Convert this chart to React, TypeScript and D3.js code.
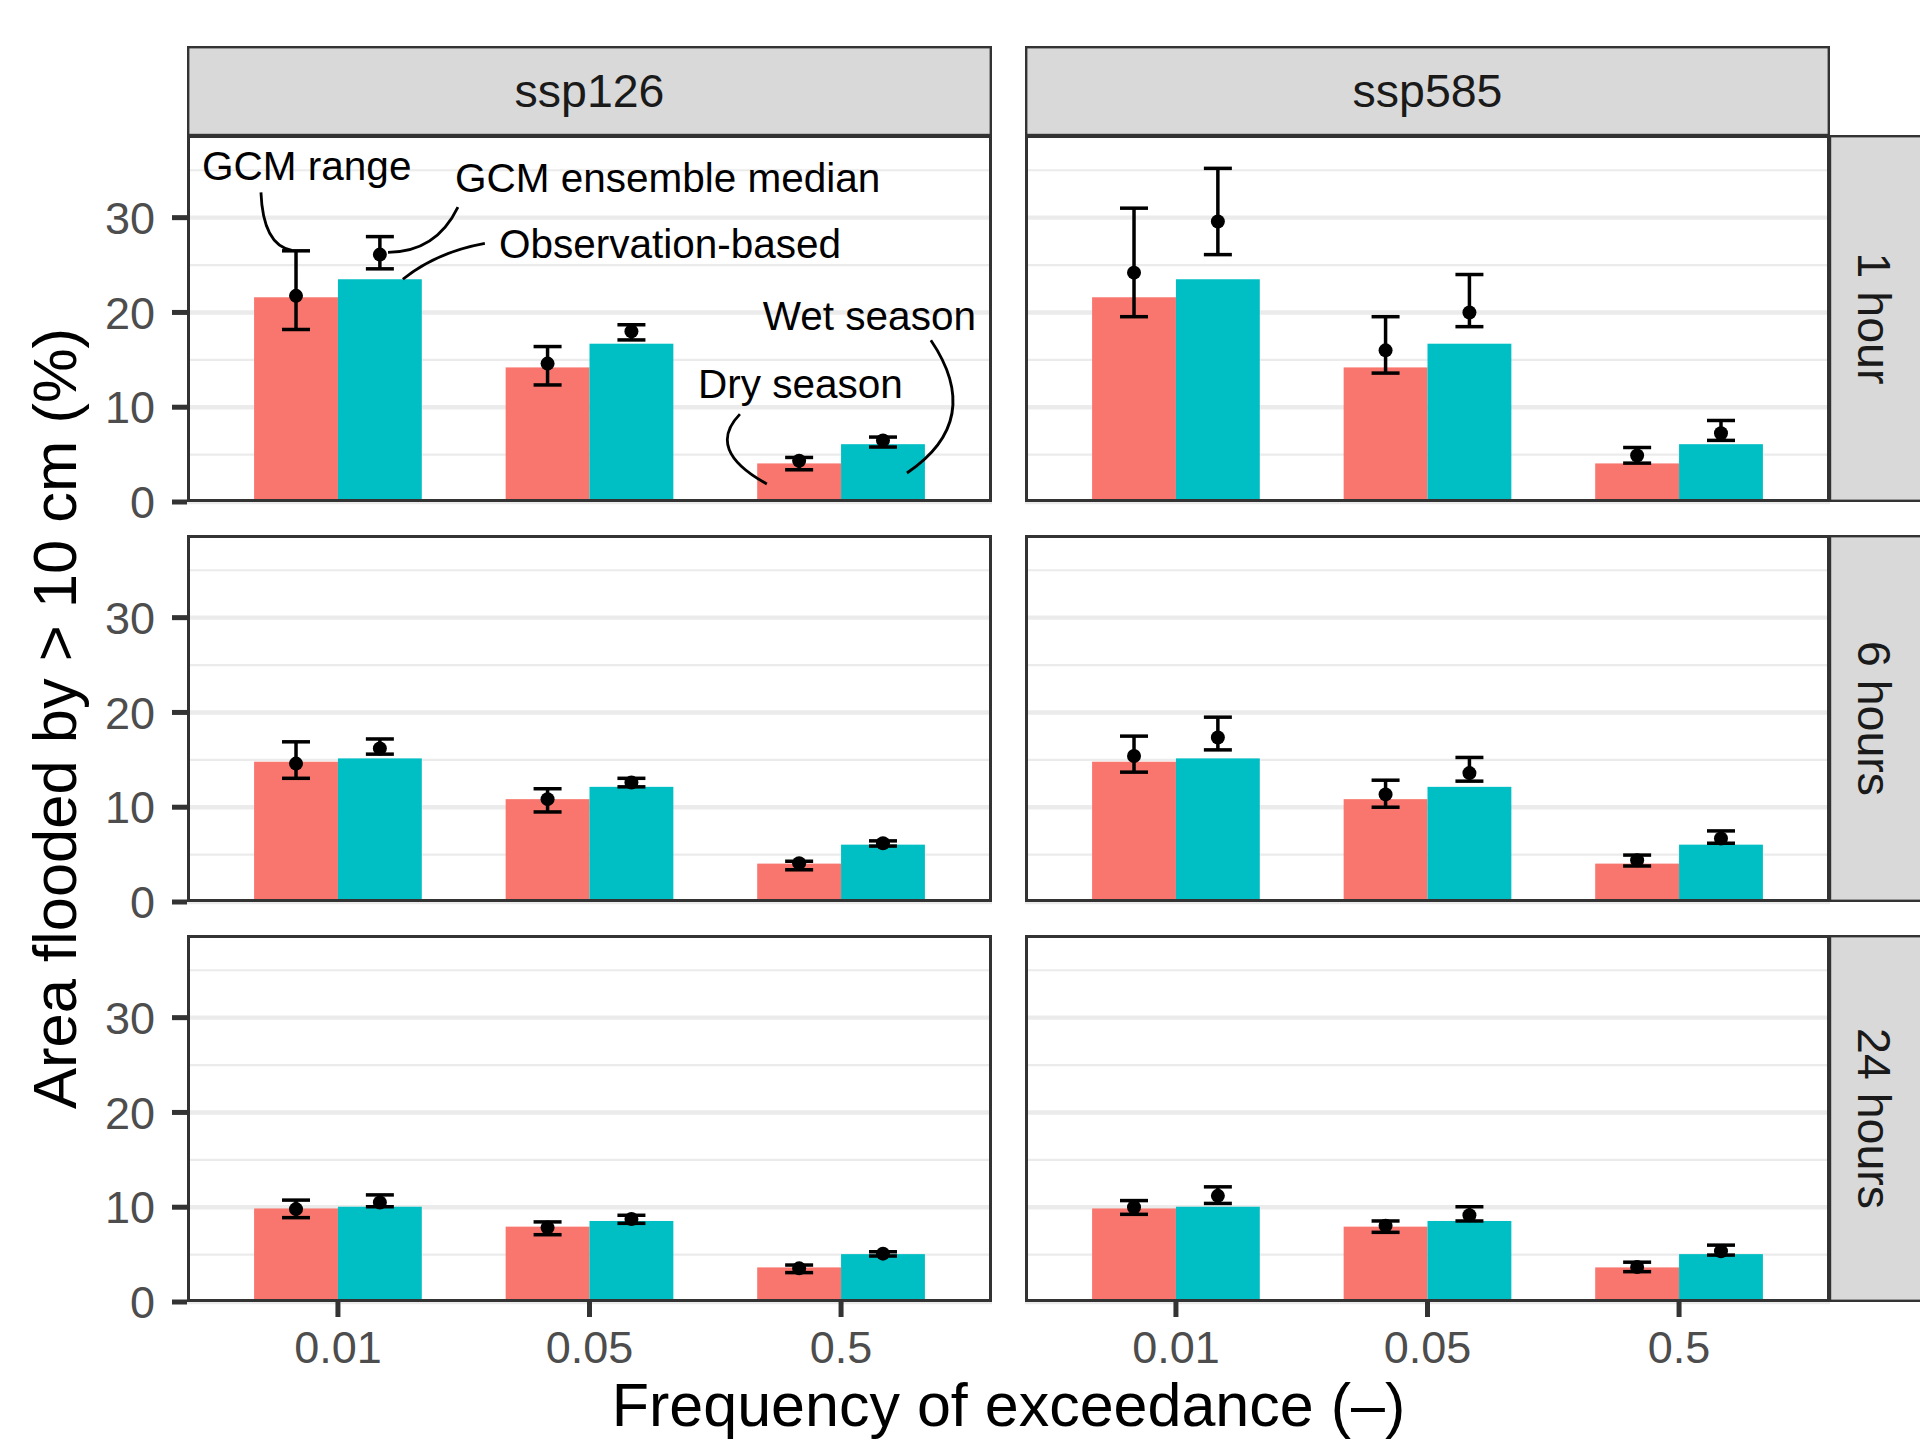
import React from 'react';
import * as d3 from 'd3';

const durations = ['1 hour', '6 hours', '24 hours'];
const scenarios = ['ssp126', 'ssp585'];
const frequencies = ['0.01', '0.05', '0.5'];
const seasons = ['Dry season', 'Wet season'];
const seasonColors = ['#F8766D', '#00BFC4'];
const yTicks = [0, 10, 20, 30];
const yMinor = [5, 15, 25, 35];

// observation-based bars, [duration][frequency]
const obsDry = [[21.6, 14.2, 4.07], [14.8, 10.85, 4.05], [9.87, 7.95, 3.65]];
const obsWet = [[23.5, 16.7, 6.1], [15.15, 12.15, 6.05], [10.05, 8.55, 5.05]];

// GCM ensemble, [duration][season][frequency]
const ssp126Median = [
  [[21.75, 14.6, 4.35], [26.1, 18.0, 6.5]],
  [[14.6, 10.85, 4.1], [16.2, 12.6, 6.2]],
  [[9.8, 7.85, 3.55], [10.5, 8.75, 5.1]],
];
const ssp126Low = [
  [[18.2, 12.35, 3.4], [24.6, 17.1, 5.8]],
  [[13.05, 9.5, 3.4], [15.6, 12.15, 5.9]],
  [[8.9, 7.1, 3.1], [10.05, 8.3, 4.85]],
];
const ssp126High = [
  [[26.5, 16.4, 4.7], [28.0, 18.7, 6.85]],
  [[16.9, 11.95, 4.3], [17.2, 13.05, 6.45]],
  [[10.75, 8.45, 3.9], [11.3, 9.15, 5.3]],
];
const ssp585Median = [
  [[24.2, 16.0, 4.9], [29.6, 20.0, 7.26]],
  [[15.4, 11.35, 4.4], [17.35, 13.6, 6.7]],
  [[10.0, 8.05, 3.7], [11.2, 9.15, 5.35]],
];
const ssp585Low = [
  [[19.55, 13.6, 4.1], [26.1, 18.5, 6.5]],
  [[13.7, 10.0, 3.8], [16.05, 12.75, 6.2]],
  [[9.25, 7.35, 3.2], [10.4, 8.55, 4.95]],
];
const ssp585High = [
  [[31.0, 19.55, 5.75], [35.2, 24.0, 8.6]],
  [[17.5, 12.85, 4.95], [19.5, 15.25, 7.5]],
  [[10.7, 8.55, 4.2], [12.15, 10.05, 6.0]],
];

// labels in the first panel: text position and curve (start, control, end) in data units
const annotations = [
  { label: 'GCM range', at: [0.46, 34.0], curve: [[0.694, 32.67], [0.702, 27.1], [0.817, 26.55]] },
  { label: 'GCM ensemble median', at: [1.465, 32.67], curve: [[1.477, 31.1], [1.39, 26.34], [1.199, 26.34]] },
  { label: 'Observation-based', at: [1.64, 25.71], curve: [[1.584, 27.29], [1.39, 26.34], [1.258, 23.5]] },
  { label: 'Wet season', at: [2.689, 18.12], curve: [[3.357, 17.07], [3.572, 8.64], [3.262, 3.06]] },
  { label: 'Dry season', at: [2.431, 10.96], curve: [[2.598, 9.27], [2.459, 5.48], [2.705, 1.9]] },
];

const medians = [ssp126Median, ssp585Median];
const lows = [ssp126Low, ssp585Low];
const highs = [ssp126High, ssp585High];

const W = 1920;
const H = 1440;
const left = 187;
const top = 135;
const panelW = 805;
const panelH = 367;
const gapX = 33;
const gapY = 33;
const strip = 89;
const font = '"Liberation Sans", Arial, Helvetica, sans-serif';

const x = d3.scaleBand().domain(frequencies).range([0, panelW]).paddingInner(1 / 3).paddingOuter(0.2667);
const xs = d3.scaleBand().domain(seasons).range([0, x.bandwidth()]);
const xc = d3.scaleLinear().domain([0.4, 3.6]).range([0, panelW]);
const y = d3.scaleLinear().domain([0, 38.72]).range([panelH, 0]);

const Panel = ({ row, col }) => {
  const px = left + col * (panelW + gapX);
  const py = top + row * (panelH + gapY);
  const obs = [obsDry[row], obsWet[row]];
  return (
    <g transform={`translate(${px},${py})`}>
      <rect width={panelW} height={panelH} fill="#fff" />
      {yMinor.map(v => (
        <line key={'m' + v} x1={0} x2={panelW} y1={y(v)} y2={y(v)} stroke="#EBEBEB" strokeWidth={2.2} />
      ))}
      {yTicks.map(v => (
        <line key={'M' + v} x1={0} x2={panelW} y1={y(v)} y2={y(v)} stroke="#EBEBEB" strokeWidth={4.4} />
      ))}
      {seasons.map((s, si) =>
        frequencies.map((f, fi) => (
          <rect
            key={s + f}
            x={x(f) + xs(s)}
            y={y(obs[si][fi])}
            width={xs.bandwidth()}
            height={panelH - y(obs[si][fi])}
            fill={seasonColors[si]}
          />
        ))
      )}
      {seasons.map((s, si) =>
        frequencies.map((f, fi) => {
          const cx = x(f) + xs(s) + xs.bandwidth() / 2;
          const lo = y(lows[col][row][si][fi]);
          const hi = y(highs[col][row][si][fi]);
          const md = y(medians[col][row][si][fi]);
          return (
            <g key={'e' + s + f} stroke="#000" strokeWidth={3.5}>
              <line x1={cx} x2={cx} y1={lo} y2={hi} />
              <line x1={cx - 14} x2={cx + 14} y1={lo} y2={lo} />
              <line x1={cx - 14} x2={cx + 14} y1={hi} y2={hi} />
              <circle cx={cx} cy={md} r={7} fill="#000" stroke="none" />
            </g>
          );
        })
      )}
      {row === 0 && col === 0 &&
        annotations.map(a => {
          const [p0, c, p1] = a.curve;
          const d = `M${xc(p0[0])},${y(p0[1])}Q${xc(c[0])},${y(c[1])} ${xc(p1[0])},${y(p1[1])}`;
          return (
            <g key={a.label}>
              <path d={d} fill="none" stroke="#000" strokeWidth={2.8} />
              <text x={xc(a.at[0])} y={y(a.at[1])} fontSize={40.5} fill="#000">
                {a.label}
              </text>
            </g>
          );
        })}
      <rect x={1.5} y={1.5} width={panelW - 3} height={panelH - 3} fill="none" stroke="#333" strokeWidth={3} />
    </g>
  );
};

export default function App() {
  const rightX = left + 2 * panelW + gapX;
  return (
    <svg width={W} height={H} style={{ position: 'absolute', left: 0, top: 0 }} fontFamily={font}>
      <rect width={W} height={H} fill="#fff" />
      {durations.map((d, r) => scenarios.map((s, c) => <Panel key={d + s} row={r} col={c} />))}

      {scenarios.map((s, c) => {
        const px = left + c * (panelW + gapX);
        return (
          <g key={s}>
            <rect x={px + 1.2} y={top - strip + 1.2} width={panelW - 2.4} height={strip - 1.2} fill="#D9D9D9" stroke="#333" strokeWidth={2.4} />
            <text x={px + panelW / 2} y={top - strip / 2} dy="0.36em" textAnchor="middle" fontSize={46.5} fill="#1A1A1A">
              {s}
            </text>
          </g>
        );
      })}

      {durations.map((d, r) => {
        const py = top + r * (panelH + gapY);
        return (
          <g key={d}>
            <rect x={rightX} y={py + 1.2} width={strip + 4} height={panelH - 2.4} fill="#D9D9D9" stroke="#333" strokeWidth={2.4} />
            <text
              transform={`translate(${rightX + strip / 2},${py + panelH / 2}) rotate(90)`}
              dy="0.36em"
              textAnchor="middle"
              fontSize={46.5}
              fill="#1A1A1A"
            >
              {d}
            </text>
          </g>
        );
      })}

      {durations.map((d, r) => {
        const py = top + r * (panelH + gapY);
        return (
          <g key={'y' + d}>
            {yTicks.map(v => (
              <g key={v}>
                <line x1={left - 15} x2={left} y1={py + y(v)} y2={py + y(v)} stroke="#333" strokeWidth={5} />
                <text x={left - 32} y={py + y(v)} dy="0.36em" textAnchor="end" fontSize={45} fill="#4D4D4D">
                  {v}
                </text>
              </g>
            ))}
          </g>
        );
      })}

      {scenarios.map((s, c) => {
        const px = left + c * (panelW + gapX);
        const by = top + 2 * (panelH + gapY) + panelH;
        return (
          <g key={'x' + s}>
            {frequencies.map(f => {
              const cx = px + x(f) + x.bandwidth() / 2;
              return (
                <g key={f}>
                  <line x1={cx} x2={cx} y1={by} y2={by + 15} stroke="#333" strokeWidth={5} />
                  <text x={cx} y={by + 61} textAnchor="middle" fontSize={45} fill="#4D4D4D">
                    {f}
                  </text>
                </g>
              );
            })}
          </g>
        );
      })}

      <text x={left + panelW + gapX / 2} y={1426} textAnchor="middle" fontSize={61} fill="#000">
        Frequency of exceedance (–)
      </text>
      <text
        transform={`translate(76,${top + (3 * panelH + 2 * gapY) / 2}) rotate(-90)`}
        textAnchor="middle"
        fontSize={61.5}
        fill="#000"
      >
        Area flooded by &gt; 10 cm (%)
      </text>
    </svg>
  );
}
